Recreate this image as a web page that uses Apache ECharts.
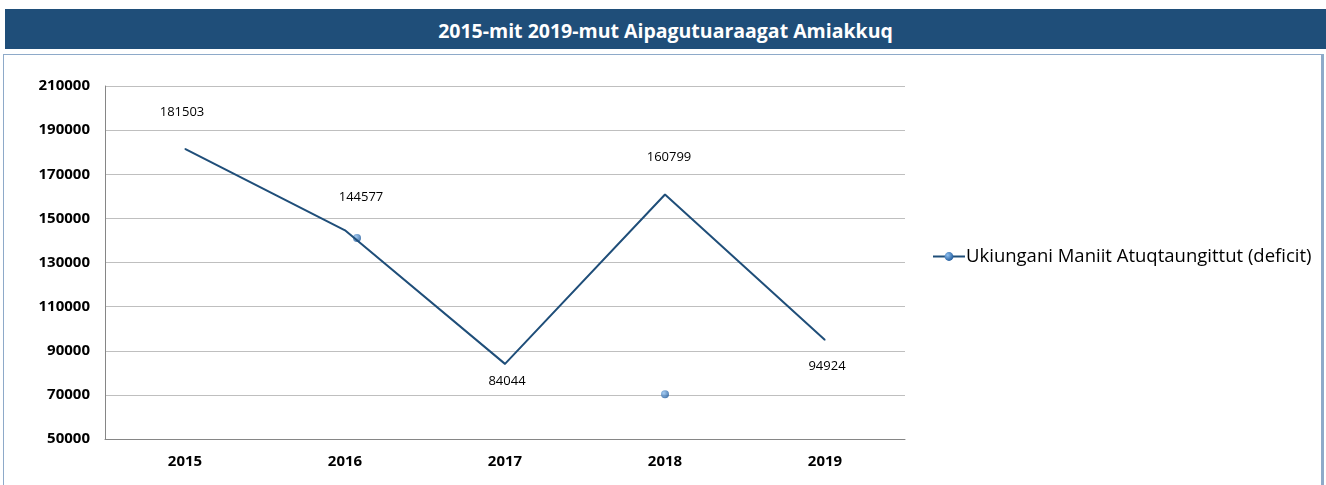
<!DOCTYPE html>
<html>
<head>
<meta charset="utf-8">
<script src="https://cdn.jsdelivr.net/npm/echarts@6/dist/echarts.min.js"></script>
<style>
	html,body{margin:0;padding:0;background:#fff;}
	#wrap{position:relative;width:1326px;height:485px;overflow:hidden;}
	#titleBar{position:absolute;left:5px;top:9px;width:1321px;height:40px;background:#1f4e79;color:#fff;
		font-family:"Open Sans","Liberation Sans",sans-serif;font-weight:bold;font-size:19.5px;line-height:44px;text-align:center;}
	#box{position:absolute;left:3px;top:54px;width:1317px;height:440px;border:1px solid #8eaac9;border-right:3px solid #8eaac9;}
	#main{position:absolute;left:0;top:0;width:1326px;height:485px;}
</style>
</head>
<body>
<div id="wrap">
	<div id="titleBar">2015-mit 2019-mut Aipagutuaraagat Amiakkuq</div>
	<div id="box"></div>
	<div id="main"></div>
</div>
<script>
;(function(){
	// 数据
	var years = ['2015', '2016', '2017', '2018', '2019'];
	var deficit = [181503, 144577, 84044, 160799, 94924];
	var strayDots = [['2016', 141100], ['2018', 70300]];
	var yTicks = [50000, 210000, 20000]; // min, max, interval
	var seriesName = 'Ukiungani Maniit Atuqtaungittut (deficit)';

	var font = 'Open Sans, Liberation Sans, sans-serif';
	var lineColor = '#1f4e79';
	var dotColor = new echarts.graphic.RadialGradient(0.35, 0.35, 0.7, [
		{offset: 0, color: '#8fc0f0'},
		{offset: 1, color: '#1f5a9c'}
	]);

	// 标签位置
	var labelCfg = {
		'2015': {position: 'top', distance: 30, offset: [-3, 0]},
		'2016': {position: 'top', distance: 26, offset: [16, 0]},
		'2017': {position: 'bottom', distance: 10, offset: [2, 0]},
		'2018': {position: 'top', distance: 30, offset: [4, 0]},
		'2019': {position: 'bottom', distance: 19, offset: [2, 0]}
	};
	var lineData = [];
	for(var i=0;i<deficit.length;i++){
		var c = labelCfg[years[i]];
		lineData.push({
			value: deficit[i],
			label: {position: c.position, distance: c.distance, offset: c.offset}
		});
	}
	// 散点偏移
	var dotShift = {'2016': [12, 0], '2018': [0, 0]};
	var dotData = [];
	for(var j=0;j<strayDots.length;j++){
		dotData.push({value: strayDots[j], symbolOffset: dotShift[strayDots[j][0]]});
	}

	var myChart = echarts.init(document.getElementById('main'), null, {renderer: 'canvas'});
	var option = {
		animation: false,
		grid: {left: 105, top: 86, right: 421, bottom: 46},
		legend: {
			left: 927,
			top: 242,
			itemWidth: 32,
			itemHeight: 11,
			data: [{name: seriesName, itemStyle: {color: dotColor}}],
			textStyle: {color: '#000', fontSize: 18.5, fontFamily: font, padding: [0, 0, 0, -4]}
		},
		xAxis: {
			type: 'category',
			data: years,
			axisLine: {lineStyle: {color: '#868686'}},
			axisTick: {show: false},
			axisLabel: {color: '#000', fontWeight: 'bold', fontSize: 15, margin: 15, fontFamily: font}
		},
		yAxis: {
			type: 'value',
			min: yTicks[0],
			max: yTicks[1],
			interval: yTicks[2],
			axisLine: {show: true, lineStyle: {color: '#868686'}},
			axisTick: {show: false},
			splitLine: {lineStyle: {color: '#bfbfbf'}},
			axisLabel: {color: '#000', fontWeight: 'bold', fontSize: 15, margin: 15, fontFamily: font,
				formatter: function(v){ return String(v); }}
		},
		series: [{
			name: seriesName,
			type: 'line',
			data: lineData,
			showSymbol: true,
			symbol: 'circle',
			symbolSize: 1,
			itemStyle: {color: lineColor},
			lineStyle: {color: lineColor, width: 2},
			emphasis: {disabled: true},
			label: {show: true, color: '#000', fontSize: 13, fontFamily: font}
		},{
			name: 'stray',
			type: 'scatter',
			data: dotData,
			symbol: 'circle',
			symbolSize: 8,
			itemStyle: {color: dotColor}
		}]
	};
	myChart.setOption(option);
})();
</script>
</body>
</html>
